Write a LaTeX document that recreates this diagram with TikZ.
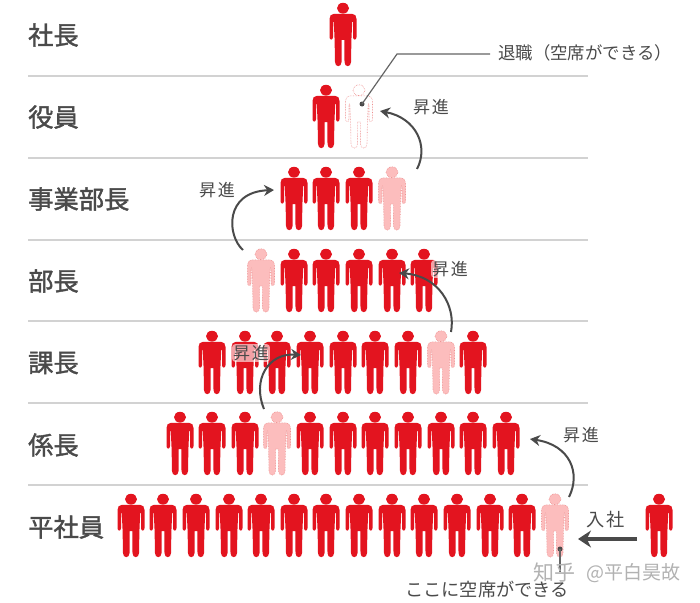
\documentclass[tikz,border=0pt]{standalone}
\usepackage{fontspec}
\setmainfont{Noto Sans CJK JP}
\newfontfamily\jpfont{Noto Sans CJK JP}
\newfontfamily\jpheavy[FakeBold=1.6]{Noto Sans CJK JP}
\newfontfamily\jpwide[LetterSpace=10]{Noto Sans CJK JP}
\usetikzlibrary{arrows.meta}
\definecolor{figred}{HTML}{E3141F}
\definecolor{figpale}{HTML}{FCBDBD}
\definecolor{figedge}{HTML}{EE8F8F}
\definecolor{ink}{HTML}{4A4A4A}
\definecolor{rulegrey}{HTML}{D2D2D2}
\tikzset{
  personfig/.pic={
    \path[pic actions] (0,5.2) ellipse (6pt and 5.4pt);
    \path[pic actions,line join=round]
      (-9,10.8) -- (9,10.8) .. controls (12,10.8) and (13.5,13) .. (13.5,16)
      -- (13.5,34) .. controls (13.5,37.5) and (10,37.5) .. (10,34) -- (10,19)
      -- (9.2,19) -- (8.4,37) -- (8,59) .. controls (8,64.5) and (1.5,64.5) .. (1.5,59)
      -- (1.4,37) -- (-1.4,37) -- (-1.5,59) .. controls (-1.5,64.5) and (-8,64.5) .. (-8,59)
      -- (-8.4,37) -- (-9.2,19) -- (-10,19) -- (-10,34)
      .. controls (-10,37.5) and (-13.5,37.5) .. (-13.5,34) -- (-13.5,16)
      .. controls (-13.5,13) and (-12,10.8) .. (-9,10.8) -- cycle;
  },
  redfig/.style={fill=figred},
  palefig/.style={fill=figpale,draw=figedge,line width=.6pt,densely dotted},
  vacantfig/.style={fill=white,draw=figedge,line width=.6pt,densely dotted},
  rowline/.style={draw=rulegrey,line width=1.4pt},
  rankname/.style={font=\jpheavy\fontsize{25.3}{25}\selectfont,text=ink,anchor=west,inner sep=0pt},
  notetext/.style={font=\jpwide\fontsize{17}{17}\selectfont,text=ink,inner sep=0pt},
  halotext/.style={notetext,fill=white,fill opacity=.6,text opacity=1,inner sep=1pt,rounded corners=3pt},
  notesmall/.style={font=\jpfont\fontsize{17.4}{17}\selectfont,text=ink,inner sep=0pt},
  notelarge/.style={font=\jpfont\fontsize{18.2}{18}\selectfont,text=ink,inner sep=0pt},
  wmarktext/.style={font=\jpfont\fontsize{21}{21}\selectfont,text=black!30,inner sep=0pt},
  promote/.style={draw=ink,line width=2pt,-{Stealth[length=10pt,width=11pt]}},
  enterarrow/.style={draw=ink,line width=3.5pt,-{Stealth[length=13pt,width=17pt]}},
  leaderline/.style={draw=ink!85,line width=1.2pt},
  pinball/.style={fill=ink,inner sep=0pt,minimum size=5pt,circle},
}
\newcommand{\fig}[4]{%
  \node[inner sep=0pt,minimum width=27pt,minimum height=63pt,anchor=north] (#1) at (#2,#3) {};
  \pic[#4] at (#2,#3) {personfig};}
\begin{document}
\begin{tikzpicture}[x=1pt,y=-1pt]
\useasboundingbox[fill=white] (0,0) rectangle (700,602);
% rules
\foreach \y/\n in {76/a,158/b,240/c,321/d,403/e,485/f}{
  \coordinate (l\n) at (28,\y); \coordinate (r\n) at (588,\y);
  \draw[rowline] (l\n) -- (r\n);}
% rank labels
\node[rankname] (t0) at (28,35) {社長};
\node[rankname] (t1) at (28,117) {役員};
\node[rankname] (t2) at (28,199) {事業部長};
\node[rankname] (t3) at (28,281) {部長};
\node[rankname] (t4) at (28,363) {課長};
\node[rankname] (t5) at (28,445) {係長};
\node[rankname] (t6) at (28,527) {平社員};
% people
\fig{pa}{343}{3}{redfig}
\fig{pb1}{326}{85}{redfig}
\fig{pb2}{359}{85}{vacantfig}
\foreach \i/\x/\s in {1/294/redfig,2/326/redfig,3/359/redfig,4/392/palefig}{\fig{pc\i}{\x}{167}{\s}}
\foreach \i/\x/\s in {1/261/palefig,2/294/redfig,3/326/redfig,4/359/redfig,5/392/redfig,6/424/redfig}{\fig{pd\i}{\x}{249}{\s}}
\foreach \i/\x/\s in {1/212/redfig,2/245/redfig,3/277/redfig,4/310/redfig,5/343/redfig,6/375/redfig,7/408/redfig,8/441/palefig,9/473/redfig}{\fig{pe\i}{\x}{331}{\s}}
\foreach \i/\x/\s in {1/180/redfig,2/212/redfig,3/245/redfig,4/277/palefig,5/310/redfig,6/343/redfig,7/375/redfig,8/408/redfig,9/441/redfig,10/473/redfig,11/506/redfig}{\fig{pf\i}{\x}{412}{\s}}
\foreach \i/\x/\s in {1/131/redfig,2/163/redfig,3/196/redfig,4/229/redfig,5/261/redfig,6/294/redfig,7/326/redfig,8/359/redfig,9/392/redfig,10/424/redfig,11/457/redfig,12/490/redfig,13/522/redfig,14/555/palefig}{\fig{pg\i}{\x}{494}{\s}}
\fig{pnew}{659}{494}{redfig}
% labels with halo under the arrows
\node[halotext] (h4) at (251,353) {昇進};
\node[halotext] (h3) at (450,269) {昇進};
% promotion arrows
\coordinate (s1) at (417,169); \coordinate (e1) at (380,111);
\coordinate (s2) at (243,250); \coordinate (e2) at (274,190);
\coordinate (s3) at (451,332); \coordinate (e3) at (399,273);
\coordinate (s4) at (264,409); \coordinate (e4) at (301,355);
\coordinate (s5) at (569,497); \coordinate (e5) at (530,439);
\draw[promote] (s1) .. controls (429,146) and (416,118) .. (e1);
\draw[promote] (s2) .. controls (227,236) and (224,192) .. (e2);
\draw[promote] (s3) .. controls (456,305) and (438,276) .. (e3);
\draw[promote] (s4) .. controls (252,380) and (268,353) .. (e4);
\draw[promote] (s5) .. controls (581,473) and (570,445) .. (e5);
\node[notetext] (n1) at (431,107) {昇進};
\node[notetext] (n2) at (217,190) {昇進};
\node[notetext] (n5) at (581,435) {昇進};
% entry
\coordinate (ein) at (637,539); \coordinate (eout) at (578,539);
\draw[enterarrow] (ein) -- (eout);
\node[notelarge] (n6) at (606,520) {入\kern2pt 社};
% leaders
\node[notesmall,anchor=west] (v1) at (498,53) {退職（空席ができる）};
\node[pinball] (d1) at (362,104) {};
\coordinate (k1) at (397,54); \coordinate (k2) at (490,54);
\draw[leaderline] (d1.center) -- (k1) -- (k2);
\node[notelarge] (v2) at (487,590) {ここに空席ができる};
\node[pinball] (d2) at (560,549) {};
\coordinate (k3) at (560,572);
\draw[leaderline] (d2.center) -- (k3);
% watermark
\node[wmarktext,anchor=west] (w1) at (533,573) {知乎};
\node[wmarktext,anchor=west,font=\jpfont\fontsize{19}{19}\selectfont] (w2) at (586,573) {@平白昊故};
\end{tikzpicture}
\end{document}
